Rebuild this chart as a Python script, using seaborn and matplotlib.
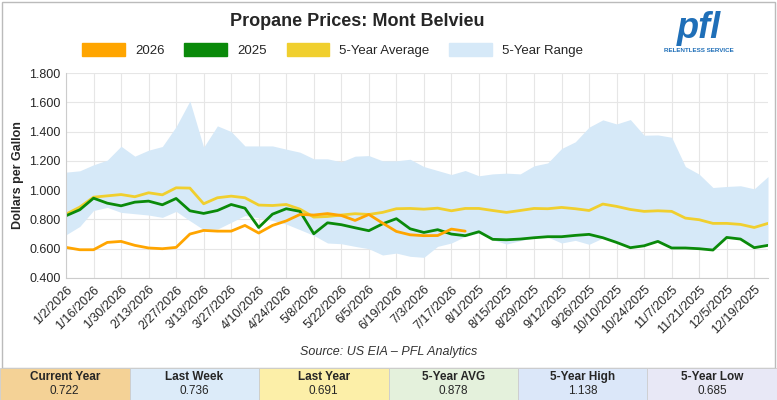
import numpy as np
import pandas as pd
import seaborn as sns
import matplotlib.pyplot as plt
from matplotlib.patches import Rectangle, Patch

tick_labels = ["1/2/2026", "1/16/2026", "1/30/2026", "2/13/2026", "2/27/2026", "3/13/2026",
               "3/27/2026", "4/10/2026", "4/24/2026", "5/8/2026", "5/22/2026", "6/5/2026",
               "6/19/2026", "7/3/2026", "7/17/2026", "8/1/2025", "8/15/2025", "8/29/2025",
               "9/12/2025", "9/26/2025", "10/10/2025", "10/24/2025", "11/7/2025", "11/21/2025",
               "12/5/2025", "12/19/2025"]

y2026 = [0.609, 0.593, 0.593, 0.643, 0.650, 0.623, 0.605, 0.600, 0.609, 0.700, 0.725, 0.720,
         0.720, 0.759, 0.707, 0.759, 0.790, 0.834, 0.830, 0.840, 0.827, 0.793, 0.834, 0.775,
         0.718, 0.695, 0.689, 0.690, 0.734, 0.720]
y2025 = [0.825, 0.866, 0.945, 0.911, 0.893, 0.918, 0.925, 0.900, 0.943, 0.859, 0.841, 0.861,
         0.902, 0.877, 0.745, 0.836, 0.873, 0.855, 0.702, 0.777, 0.764, 0.743, 0.723, 0.770,
         0.805, 0.736, 0.711, 0.730, 0.700, 0.689, 0.716, 0.664, 0.661, 0.666, 0.675, 0.682,
         0.682, 0.691, 0.698, 0.675, 0.643, 0.607, 0.620, 0.650, 0.605, 0.605, 0.600, 0.591,
         0.677, 0.666, 0.607, 0.623]
avg5 = [0.836, 0.884, 0.952, 0.961, 0.970, 0.955, 0.982, 0.968, 1.016, 1.014, 0.907, 0.948,
        0.959, 0.948, 0.898, 0.895, 0.902, 0.870, 0.816, 0.820, 0.830, 0.839, 0.834, 0.848,
        0.873, 0.875, 0.870, 0.877, 0.859, 0.875, 0.875, 0.861, 0.848, 0.861, 0.875, 0.873,
        0.882, 0.873, 0.861, 0.905, 0.889, 0.868, 0.855, 0.859, 0.855, 0.809, 0.798, 0.773,
        0.773, 0.766, 0.745, 0.773]
high5 = [1.123, 1.132, 1.173, 1.205, 1.300, 1.232, 1.273, 1.298, 1.434, 1.609, 1.293, 1.439,
         1.400, 1.302, 1.302, 1.302, 1.280, 1.259, 1.214, 1.214, 1.193, 1.232, 1.236, 1.200,
         1.200, 1.211, 1.161, 1.134, 1.107, 1.134, 1.098, 1.111, 1.116, 1.111, 1.166, 1.186,
         1.284, 1.330, 1.430, 1.480, 1.452, 1.482, 1.375, 1.377, 1.361, 1.161, 1.109, 1.018,
         1.025, 1.030, 1.009, 1.093]
low5 = [0.695, 0.752, 0.861, 0.882, 0.848, 0.839, 0.830, 0.814, 0.855, 0.791, 0.730, 0.734,
        0.780, 0.827, 0.811, 0.793, 0.768, 0.730, 0.691, 0.639, 0.634, 0.616, 0.600, 0.557,
        0.570, 0.548, 0.541, 0.616, 0.639, 0.684, 0.707, 0.661, 0.632, 0.655, 0.675, 0.680,
        0.639, 0.657, 0.630, 0.673, 0.643, 0.607, 0.620, 0.650, 0.605, 0.605, 0.600, 0.591,
        0.677, 0.666, 0.607, 0.623]

box_titles = ["Current Year", "Last Week", "Last Year", "5-Year AVG", "5-Year High", "5-Year Low"]
box_values = ["0.722", "0.736", "0.691", "0.878", "1.138", "0.685"]
box_colors = ["#f4d296", "#dcebf9", "#fcefa8", "#e4f1dc", "#dbe7f9", "#e8e8f6"]

weeks = np.arange(len(y2025))
df25 = pd.DataFrame({"week": weeks, "price": y2025})
df26 = pd.DataFrame({"week": weeks[:len(y2026)], "price": y2026})
dfavg = pd.DataFrame({"week": weeks, "price": avg5})

c26, c25, cavg, crange = "#ffa500", "#0a8a0a", "#f0cf2e", "#d6e9f8"

sns.set_style("white")
plt.rcParams['font.family'] = ['Liberation Sans', 'DejaVu Sans']

fig = plt.figure(figsize=(7.77, 4.0), dpi=100)
fig.patches.append(Rectangle((0.002, 0.08), 0.996, 0.915, transform=fig.transFigure,
                             fill=False, edgecolor="#bbbbbb", lw=1))

ax = fig.add_axes([66 / 777, 1 - 278 / 400, (768 - 66) / 777, (278 - 73) / 400])
ax.fill_between(weeks, low5, high5, color=crange, lw=0)
sns.lineplot(data=dfavg, x="week", y="price", ax=ax, color=cavg, lw=2)
sns.lineplot(data=df25, x="week", y="price", ax=ax, color=c25, lw=2)
sns.lineplot(data=df26, x="week", y="price", ax=ax, color=c26, lw=2)

ax.set_xlim(0, len(weeks) - 1)
ax.set_ylim(0.4, 1.8)
ax.set_yticks(np.arange(0.4, 1.81, 0.2))
ax.set_yticklabels([f"{v:.3f}" for v in np.arange(0.4, 1.81, 0.2)], fontsize=9)
ax.set_xticks(weeks[::2])
ax.set_xticklabels(tick_labels, rotation=45, ha="right", rotation_mode="anchor", fontsize=9)
ax.grid(True, color="#e6e6e6", lw=0.8)
ax.set_axisbelow(True)
for s in ["top", "right"]:
    ax.spines[s].set_visible(False)
for s in ["left", "bottom"]:
    ax.spines[s].set_color("#cccccc")
ax.tick_params(length=0, pad=4)
ax.set_xlabel("")
ax.set_ylabel("Dollars per Gallon", fontsize=9, fontweight="bold")

handles = [Patch(color=c26), Patch(color=c25), Patch(color=cavg), Patch(color=crange)]
ax.legend(handles, ["2026", "2025", "5-Year Average", "5-Year Range"], loc="lower center",
          bbox_to_anchor=(0.38, 1.02), ncol=4, frameon=False, fontsize=9.5,
          handlelength=3.2, handleheight=1.1, columnspacing=1.5)

fig.text(0.46, 0.945, "Propane Prices: Mont Belvieu", ha="center", va="center",
         fontsize=13, fontweight="bold")
fig.text(0.9, 0.93, "pfl", ha="center", va="center", fontsize=26, fontweight="bold",
         color="#1f6fb8", style="italic")
fig.text(0.9, 0.875, "RELENTLESS SERVICE", ha="center", va="center", fontsize=4.5,
         color="#1f6fb8", fontweight="bold")
fig.text(0.5, 1 - 352 / 400, "Source: US EIA – PFL Analytics", ha="center", va="center",
         fontsize=9, style="italic", color="#333333")

w = 1 / 6
for i in range(6):
    fig.patches.append(Rectangle((i * w, 0), w, 32 / 400, transform=fig.transFigure,
                                 facecolor=box_colors[i], edgecolor="#cccccc", lw=0.6))
    fig.text(i * w + w / 2, 23 / 400, box_titles[i], ha="center", va="center",
             fontsize=8.5, fontweight="bold")
    fig.text(i * w + w / 2, 9 / 400, box_values[i], ha="center", va="center", fontsize=8.5)

fig.savefig("out.png", dpi=100)
